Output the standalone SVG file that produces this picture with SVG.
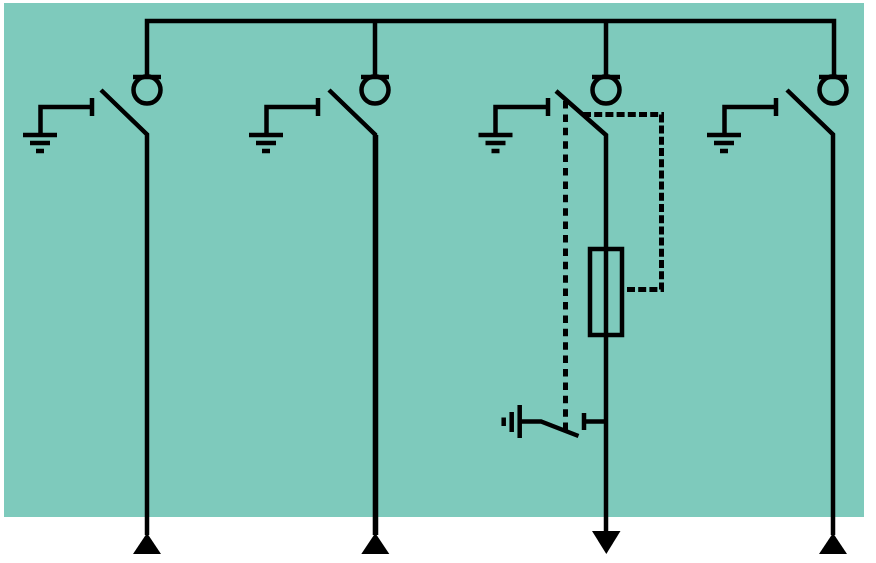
<svg xmlns="http://www.w3.org/2000/svg" width="876" height="563" viewBox="0 0 876 563">
<style>
.l{fill:none;stroke:#000;stroke-width:4.500}
.d{fill:none;stroke:#000;stroke-width:5;stroke-dasharray:7.500 5.900}
.e{fill:none;stroke:#000;stroke-width:5;stroke-dasharray:8 3.200}
.a{fill:#000;stroke:none}
</style>
<defs>
<g id="earth">
<path class="l" d="M-17 0H17M-10 8H10M-4 16H4"/>
</g>
<g id="feeder">
<path class="l" d="M-14 -13H14"/>
<circle class="l" cx="0" cy="0" r="13.500"/>
<path class="l" d="M-46 0L0 44.500V445"/>
</g>
</defs>
<rect id="panel" x="4" y="3" width="860" height="514" fill="#7ecabc"/>
<g id="connectors">
<path class="l" d="M147 76V21H834V76M375 21V76M606 21V76"/>
<path class="d" d="M565.500 101V431"/>
<path class="e" d="M627 289.500H661.500V114.500H583"/>
</g>
<g id="feeder-1">
<use href="#feeder" x="147" y="90"/>
<path class="l" d="M92 98V116M92 107H40.500V134"/>
<use href="#earth" x="40" y="135"/>
<path class="a" d="M147 533L161 554H133Z"/>
</g>
<g id="feeder-2">
<use href="#feeder" x="375" y="90"/>
<path d="M375.600 135V535" fill="none" stroke="#000" stroke-width="5.300"/>
<path class="l" d="M318 98V116M318 107H266.500V134"/>
<use href="#earth" x="266" y="135"/>
<path class="a" d="M375.300 533L389.300 554H361.300Z"/>
</g>
<g id="feeder-3">
<path class="l" d="M592 77H620"/>
<circle class="l" cx="606" cy="90" r="13.500"/>
<path class="l" d="M556 91L606 135V535"/>
<path class="l" d="M548 98V116M548 107H495.500V134"/>
<use href="#earth" x="495.500" y="135"/>
<path class="a" d="M592 531H620.500L606.300 554Z"/>
</g>
<g id="fuse">
<rect class="l" x="590" y="249" width="32" height="86"/>
</g>
<g id="earthing-switch">
<path class="l" d="M584 413V430M584 421.500H606"/>
<path class="l" d="M578.500 436L541 421.500H519.500"/>
<path class="l" d="M519.700 405V438M511.700 412V432M503.700 417.500V426"/>
</g>
<g id="feeder-4">
<use href="#feeder" x="833" y="90"/>
<path class="l" d="M776 98V116M776 107H724.500V134"/>
<use href="#earth" x="724" y="135"/>
<path class="a" d="M833 533L847 554H819Z"/>
</g>
</svg>
